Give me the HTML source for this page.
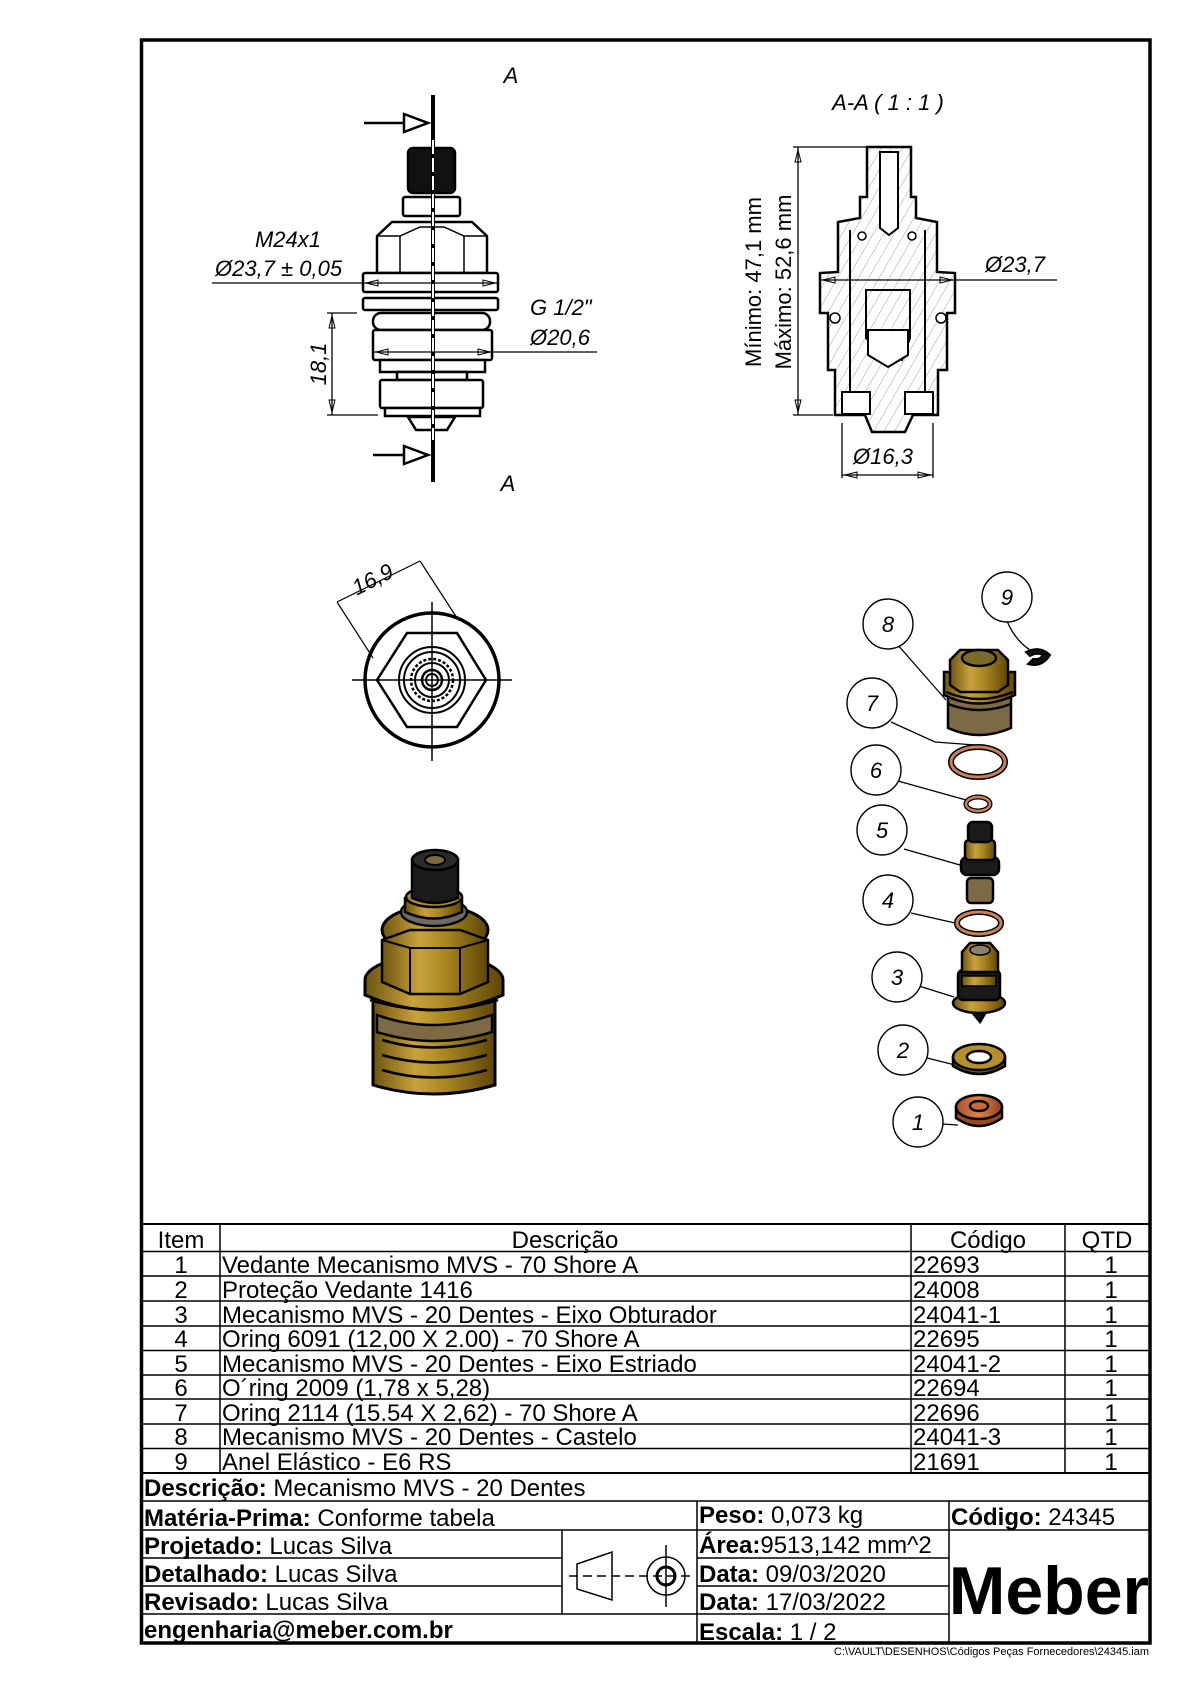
<!DOCTYPE html>
<html><head><meta charset="utf-8"><style>
html,body{margin:0;padding:0;background:#fff}
svg{display:block}
text{font-family:"Liberation Sans",Arial,sans-serif}
.it{font-style:italic}
</style></head><body>
<svg width="1190" height="1684" viewBox="0 0 1190 1684" xmlns="http://www.w3.org/2000/svg">
<defs>
<pattern id="h" width="9" height="9" patternUnits="userSpaceOnUse" patternTransform="rotate(30)">
<line x1="0" y1="0" x2="0" y2="9" stroke="#6aa06a" stroke-width="0.8"/></pattern>
<linearGradient id="br" x1="0" x2="1"><stop offset="0" stop-color="#6e5410"/><stop offset="0.35" stop-color="#c9a23e"/><stop offset="0.6" stop-color="#a98621"/><stop offset="1" stop-color="#5e4508"/></linearGradient>
<linearGradient id="cu" x1="0" x2="1"><stop offset="0" stop-color="#a0522d"/><stop offset="0.5" stop-color="#e0844a"/><stop offset="1" stop-color="#8a4020"/></linearGradient>
</defs>
<rect x="141.5" y="40" width="1008.5" height="1603" fill="none" stroke="#000" stroke-width="3.5"/>

<!-- FRONT VIEW -->
<g stroke="#000" fill="#fff" stroke-width="2.5">
<rect x="408" y="148" width="47" height="45" rx="5" fill="#111"/>
<rect x="403" y="197" width="57" height="19" rx="2"/>
<path d="M377 273 L377 236 L392 222 L472 222 L487 236 L487 273 Z"/>
<path d="M400 236 L400 273 M464 236 L464 273 M377 236 L400 236 L420 227 L444 227 L464 236 L487 236" fill="none" stroke-width="1.5"/>
<rect x="363" y="273" width="135" height="19" rx="2"/>
<rect x="363" y="298" width="135" height="12" rx="2"/>
<rect x="373" y="313" width="117" height="17" rx="8"/>
<rect x="373" y="330" width="119" height="30" rx="2"/>
<rect x="380" y="360" width="105" height="12"/>
<rect x="397" y="372" width="70" height="8"/>
<rect x="380" y="380" width="103" height="28" rx="2"/>
<rect x="385" y="408" width="95" height="8"/>
<path d="M408 417 L455 417 L447 430 L416 430 Z"/>
</g>
<line x1="433" y1="95" x2="433" y2="482" stroke="#000" stroke-width="4"/>
<line x1="433" y1="140" x2="433" y2="440" stroke="#fff" stroke-width="2" stroke-dasharray="14 4"/>
<g stroke="#000" stroke-width="2.5" fill="#fff">
<line x1="364" y1="123" x2="408" y2="123"/><path d="M404 114 L428 123 L404 132 Z"/>
<line x1="373" y1="455" x2="408" y2="455"/><path d="M404 446 L428 455 L404 464 Z"/>
</g>
<text x="511" y="83" font-size="22" class="it" text-anchor="middle">A</text>
<text x="508" y="491" font-size="22" class="it" text-anchor="middle">A</text>
<g stroke="#000" stroke-width="1.3" fill="none">
<line x1="212" y1="283" x2="498" y2="283"/>
<line x1="373" y1="352" x2="597" y2="352"/>
<line x1="332" y1="313" x2="332" y2="415"/>
<line x1="327" y1="313" x2="357" y2="313"/>
<line x1="327" y1="415" x2="378" y2="415"/>
</g>
<g fill="none" stroke="#000" stroke-width="1">
<path d="M366 283 L378 280 L378 286 Z M495 283 L483 280 L483 286 Z"/>
<path d="M376 352 L388 349 L388 355 Z M490 352 L478 349 L478 355 Z"/>
<path d="M332 316 L329 328 L335 328 Z M332 412 L329 400 L335 400 Z"/>
</g>
<text x="288" y="247" font-size="22" class="it" text-anchor="middle">M24x1</text>
<text x="215" y="276" font-size="22" class="it">Ø23,7 ± 0,05</text>
<text x="530" y="315" font-size="22" class="it">G 1/2"</text>
<text x="530" y="345" font-size="22" class="it">Ø20,6</text>
<text transform="translate(326,364) rotate(-90)" font-size="22" class="it" text-anchor="middle">18,1</text>

<!-- SECTION VIEW -->
<text x="888" y="110" font-size="22" class="it" text-anchor="middle">A-A ( 1 : 1 )</text>
<g stroke="#000" stroke-width="2.5">
<path d="M867 147 L911 147 L911 197 L916 197 L916 218 L937 222 L937 272 L955 273 L955 313 L947 313 L947 370 L938 370 L938 415 L913 415 L905 432 L872 432 L865 415 L835 415 L835 370 L828 370 L828 313 L820 313 L820 273 L838 272 L838 222 L860 218 L860 197 L867 197 Z" fill="url(#h)"/>
<path d="M880 152 L898 152 L898 228 L889 235 L880 228 Z" fill="#fff" stroke-width="2"/>
<path d="M866 290 L866 338 L875 348 L902 360 L910 338 L910 290 Z" fill="none" stroke-width="2"/>
<path d="M868 330 L908 330 L908 355 L888 367 L868 355 Z" fill="#fff" stroke-width="2"/>
<path d="M850 230 L850 410 M925 230 L925 410" fill="none" stroke-width="2"/>
<rect x="842" y="392" width="28" height="22" fill="#fff" stroke-width="2"/>
<rect x="905" y="392" width="28" height="22" fill="#fff" stroke-width="2"/>
<circle cx="862" cy="236" r="4" fill="#fff" stroke-width="1.5"/>
<circle cx="912" cy="236" r="4" fill="#fff" stroke-width="1.5"/>
<circle cx="835" cy="318" r="5" fill="#fff" stroke-width="1.5"/>
<circle cx="941" cy="318" r="5" fill="#fff" stroke-width="1.5"/>
</g>
<g stroke="#000" stroke-width="1.3" fill="none">
<line x1="798" y1="147" x2="798" y2="415"/>
<line x1="793" y1="147" x2="867" y2="147"/>
<line x1="793" y1="415" x2="833" y2="415"/>
<line x1="820" y1="280" x2="1057" y2="280"/>
<line x1="842" y1="423" x2="842" y2="478"/>
<line x1="933" y1="423" x2="933" y2="478"/>
<line x1="842" y1="475" x2="933" y2="475"/>
</g>
<g fill="none" stroke="#000" stroke-width="1">
<path d="M798 150 L795 162 L801 162 Z M798 412 L795 400 L801 400 Z"/>
<path d="M823 280 L835 277 L835 283 Z M952 280 L940 277 L940 283 Z"/>
<path d="M845 475 L857 472 L857 478 Z M930 475 L918 472 L918 478 Z"/>
</g>
<text transform="translate(761,282) rotate(-90)" font-size="22" text-anchor="middle">Mínimo: 47,1 mm</text>
<text transform="translate(791,282) rotate(-90)" font-size="22" text-anchor="middle">Máximo: 52,6 mm</text>
<text x="985" y="272" font-size="22" class="it">Ø23,7</text>
<text x="853" y="464" font-size="22" class="it">Ø16,3</text>

<!-- TOP VIEW -->
<g stroke="#000" fill="none">
<circle cx="432" cy="680" r="67" stroke-width="3.5"/>
<path d="M377 680 L407 633 L457 633 L486 680 L457 727 L407 727 Z" stroke-width="2.5"/>
<circle cx="432" cy="680" r="33" stroke-width="2"/>
<circle cx="432" cy="680" r="28" stroke-width="2"/>
<circle cx="432" cy="680" r="21" stroke-width="2.5" stroke-dasharray="3 2"/>
<circle cx="432" cy="680" r="17" stroke-width="2"/>
<circle cx="432" cy="680" r="10" stroke-width="2.5"/>
<circle cx="432" cy="680" r="6" stroke-width="2"/>
<line x1="352" y1="680" x2="512" y2="680" stroke-width="1.5"/>
<line x1="432" y1="602" x2="432" y2="761" stroke-width="1.5"/>
<line x1="337" y1="602" x2="420" y2="561" stroke-width="1.2"/>
<line x1="337" y1="602" x2="373" y2="658" stroke-width="1.2"/>
<line x1="420" y1="561" x2="457" y2="618" stroke-width="1.2"/>
</g>
<text transform="translate(376,586) rotate(-27)" font-size="22" class="it" text-anchor="middle">16,9</text>

<!-- 3D ASSEMBLY -->
<g stroke="#000" stroke-width="3">
<path d="M373 1000 L373 1085 Q433 1103 495 1085 L495 1000 Z" fill="url(#br)"/>
<path d="M382 1040 Q433 1055 487 1040 M382 1055 Q433 1070 487 1055 M382 1070 Q433 1085 487 1070" fill="none" stroke-width="2.5"/>
<path d="M377 1015 Q433 1035 492 1015 L492 1032 Q433 1050 377 1032 Z" fill="#7d6a45" stroke-width="2.5"/>
<ellipse cx="434" cy="980" rx="69" ry="25" fill="url(#br)"/>
<path d="M365 980 L365 995 Q434 1025 503 995 L503 980" fill="url(#br)"/>
<path d="M370 1000 Q434 1020 498 1000" fill="none" stroke-width="2.5"/>
<ellipse cx="435" cy="930" rx="53" ry="24" fill="url(#br)"/>
<path d="M382 940 L410 930 L460 930 L488 940 L488 982 L460 994 L410 994 L382 982 Z" fill="url(#br)" stroke-width="2.5"/>
<path d="M382 940 L410 948 L460 948 L488 940 M410 948 L410 994 M460 948 L460 994" fill="none" stroke-width="2"/>
<ellipse cx="434" cy="912" rx="33" ry="14" fill="#6e6a66" stroke-width="2.5"/>
<path d="M405 897 L405 912 Q434 925 462 912 L462 897" fill="url(#br)" stroke-width="2.5"/>
<ellipse cx="434" cy="897" rx="28" ry="10" fill="#b58f2c" stroke-width="2.5"/>
<path d="M412 860 L412 898 Q435 908 458 898 L458 860 Z" fill="#1a1a1a" stroke-width="2.5"/>
<ellipse cx="435" cy="860" rx="23" ry="10" fill="#2a2a2a" stroke-width="2.5"/>
<ellipse cx="435" cy="860" rx="10" ry="5" fill="#7a6a40" stroke-width="2"/>
</g>

<!-- EXPLODED VIEW -->
<g stroke="#000" stroke-width="1.3" fill="none">
<path d="M1007 621 Q1015 640 1030 650"/>
<path d="M897 644 L946 700"/>
<path d="M891 722 L935 742 L975 745"/>
<path d="M898 781 L966 800"/>
<path d="M904 849 L960 865"/>
<path d="M911 913 L955 923"/>
<path d="M919 986 L954 997"/>
<path d="M927 1058 L955 1065"/>
<path d="M942 1124 L958 1125"/>
</g>
<g stroke="#000" stroke-width="1.4" fill="#fff">
<circle cx="1007" cy="597" r="25"/><circle cx="888" cy="624" r="25"/>
<circle cx="872" cy="703" r="25"/><circle cx="876" cy="770" r="25"/>
<circle cx="882" cy="830" r="25"/><circle cx="888" cy="900" r="25"/>
<circle cx="897" cy="977" r="25"/><circle cx="903" cy="1050" r="25"/>
<circle cx="918" cy="1122" r="25"/>
</g>
<g font-size="22" class="it" text-anchor="middle">
<text x="1007" y="605">9</text><text x="888" y="632">8</text><text x="872" y="711">7</text>
<text x="876" y="778">6</text><text x="882" y="838">5</text><text x="888" y="908">4</text>
<text x="897" y="985">3</text><text x="903" y="1058">2</text><text x="918" y="1130">1</text>
</g>
<path d="M1026 652 Q1040 645 1050 655 Q1042 668 1028 664 L1033 659 Q1040 660 1043 655 Q1036 652 1030 656 Z" fill="#111" stroke="#000" stroke-width="2"/>
<g stroke="#000" stroke-width="2.5">
<path d="M948 690 L948 728 Q979 742 1011 728 L1011 690 Z" fill="#7d6a45"/>
<path d="M944 672 L944 695 Q979 712 1015 695 L1015 672 Z" fill="url(#br)"/>
<path d="M946 692 Q979 706 1013 692 M948 704 Q979 716 1011 704" fill="none"/>
<path d="M950 660 L960 650 L998 650 L1008 660 L1008 685 L998 692 L960 692 L950 685 Z" fill="url(#br)"/>
<ellipse cx="979" cy="658" rx="17" ry="8" fill="#7d6a2a"/>
</g>
<ellipse cx="978" cy="762" rx="27" ry="15" fill="none" stroke="#000" stroke-width="6"/>
<ellipse cx="978" cy="762" rx="27" ry="15" fill="none" stroke="#c8805a" stroke-width="3"/>
<ellipse cx="978" cy="804" rx="12" ry="7" fill="none" stroke="#000" stroke-width="5"/>
<ellipse cx="978" cy="804" rx="12" ry="7" fill="none" stroke="#c8805a" stroke-width="2.5"/>
<ellipse cx="979" cy="923" rx="22" ry="11" fill="none" stroke="#000" stroke-width="6"/>
<ellipse cx="979" cy="923" rx="22" ry="11" fill="none" stroke="#c8805a" stroke-width="3"/>
<g stroke="#000" stroke-width="2.5">
<rect x="967" y="878" width="26" height="25" rx="4" fill="#7d6a45"/>
<rect x="961" y="857" width="38" height="18" rx="6" fill="#1a1a1a"/>
<rect x="965" y="840" width="30" height="20" rx="4" fill="url(#br)"/>
<rect x="968" y="822" width="24" height="20" rx="5" fill="#1a1a1a"/>
</g>
<g stroke="#000" stroke-width="2.5">
<path d="M972 1012 L986 1012 L980 1022 Z" fill="#111"/>
<ellipse cx="979" cy="1003" rx="26" ry="10" fill="url(#br)"/>
<rect x="958" y="970" width="42" height="30" rx="5" fill="#1a1a1a"/>
<rect x="962" y="976" width="34" height="10" fill="url(#br)" stroke-width="1.5"/>
<path d="M962 952 L970 943 L990 943 L998 952 L998 972 L962 972 Z" fill="url(#br)"/>
<ellipse cx="980" cy="950" rx="10" ry="5" fill="#8a8070" stroke-width="1.5"/>
</g>
<g stroke="#000" stroke-width="2.5">
<path d="M953 1057 L953 1066 Q979 1082 1005 1066 L1005 1057 Z" fill="#6e5410"/>
<ellipse cx="979" cy="1057" rx="26" ry="13" fill="#b58f2c"/>
<ellipse cx="979" cy="1057" rx="12" ry="6" fill="#fff"/>
</g>
<g stroke="#000" stroke-width="2.5">
<path d="M956 1107 L956 1118 Q979 1134 1002 1118 L1002 1107 Z" fill="#9a4a22"/>
<ellipse cx="979" cy="1107" rx="23" ry="12" fill="url(#cu)"/>
<ellipse cx="979" cy="1106" rx="9" ry="5" fill="#c86a3a"/>
</g>

<!-- TABLE -->
<g stroke="#000" stroke-width="1.5">
<line x1="141.5" y1="1224" x2="1150" y2="1224" stroke-width="2"/>
<line x1="141.5" y1="1251.5" x2="1150" y2="1251.5"/>
<line x1="141.5" y1="1276" x2="1150" y2="1276"/>
<line x1="141.5" y1="1301" x2="1150" y2="1301"/>
<line x1="141.5" y1="1326" x2="1150" y2="1326"/>
<line x1="141.5" y1="1350.5" x2="1150" y2="1350.5"/>
<line x1="141.5" y1="1375" x2="1150" y2="1375"/>
<line x1="141.5" y1="1399" x2="1150" y2="1399"/>
<line x1="141.5" y1="1424" x2="1150" y2="1424"/>
<line x1="141.5" y1="1448.5" x2="1150" y2="1448.5"/>
<line x1="141.5" y1="1473" x2="1150" y2="1473" stroke-width="2"/>
<line x1="220" y1="1224" x2="220" y2="1473"/>
<line x1="911" y1="1224" x2="911" y2="1473"/>
<line x1="1065" y1="1224" x2="1065" y2="1473"/>
<line x1="141.5" y1="1501" x2="1150" y2="1501"/>
<line x1="141.5" y1="1530" x2="1150" y2="1530"/>
<line x1="141.5" y1="1558" x2="562" y2="1558"/>
<line x1="697" y1="1558" x2="949" y2="1558"/>
<line x1="141.5" y1="1586" x2="562" y2="1586"/>
<line x1="697" y1="1586" x2="949" y2="1586"/>
<line x1="141.5" y1="1614" x2="949" y2="1614"/>
<line x1="697" y1="1501" x2="697" y2="1643"/>
<line x1="949" y1="1501" x2="949" y2="1643"/>
<line x1="562" y1="1530" x2="562" y2="1614"/>
</g>
<g stroke="#000" stroke-width="1.5" fill="none">
<path d="M577 1564 L612 1552 L612 1600 L577 1589 Z"/>
<line x1="569" y1="1576" x2="690" y2="1576" stroke-dasharray="9 5"/>
<line x1="666" y1="1545" x2="666" y2="1607"/>
<circle cx="666" cy="1576" r="19"/>
<circle cx="666" cy="1576" r="9" stroke-width="3"/>
</g>
<g font-size="24">
<text x="181" y="1248" text-anchor="middle">Item</text>
<text x="565" y="1248" text-anchor="middle">Descrição</text>
<text x="988" y="1248" text-anchor="middle">Código</text>
<text x="1107" y="1248" text-anchor="middle">QTD</text>
<text x="181" y="1273" text-anchor="middle">1</text><text x="222" y="1273">Vedante Mecanismo MVS - 70 Shore A</text><text x="913" y="1273">22693</text><text x="1111" y="1273" text-anchor="middle">1</text>
<text x="181" y="1298" text-anchor="middle">2</text><text x="222" y="1298">Proteção Vedante 1416</text><text x="913" y="1298">24008</text><text x="1111" y="1298" text-anchor="middle">1</text>
<text x="181" y="1323" text-anchor="middle">3</text><text x="222" y="1323">Mecanismo MVS - 20 Dentes - Eixo Obturador</text><text x="913" y="1323">24041-1</text><text x="1111" y="1323" text-anchor="middle">1</text>
<text x="181" y="1347" text-anchor="middle">4</text><text x="222" y="1347">Oring 6091 (12,00 X 2.00) - 70 Shore A</text><text x="913" y="1347">22695</text><text x="1111" y="1347" text-anchor="middle">1</text>
<text x="181" y="1372" text-anchor="middle">5</text><text x="222" y="1372">Mecanismo MVS - 20 Dentes - Eixo Estriado</text><text x="913" y="1372">24041-2</text><text x="1111" y="1372" text-anchor="middle">1</text>
<text x="181" y="1396" text-anchor="middle">6</text><text x="222" y="1396">O´ring 2009 (1,78 x 5,28)</text><text x="913" y="1396">22694</text><text x="1111" y="1396" text-anchor="middle">1</text>
<text x="181" y="1421" text-anchor="middle">7</text><text x="222" y="1421">Oring 2114 (15.54 X 2,62) - 70 Shore A</text><text x="913" y="1421">22696</text><text x="1111" y="1421" text-anchor="middle">1</text>
<text x="181" y="1445" text-anchor="middle">8</text><text x="222" y="1445">Mecanismo MVS - 20 Dentes - Castelo</text><text x="913" y="1445">24041-3</text><text x="1111" y="1445" text-anchor="middle">1</text>
<text x="181" y="1470" text-anchor="middle">9</text><text x="222" y="1470">Anel Elástico - E6 RS</text><text x="913" y="1470">21691</text><text x="1111" y="1470" text-anchor="middle">1</text>
<text x="144" y="1496"><tspan font-weight="bold">Descrição:</tspan> Mecanismo MVS - 20 Dentes</text>
<text x="144" y="1526"><tspan font-weight="bold">Matéria-Prima:</tspan> Conforme tabela</text>
<text x="144" y="1554"><tspan font-weight="bold">Projetado:</tspan> Lucas Silva</text>
<text x="144" y="1582"><tspan font-weight="bold">Detalhado:</tspan> Lucas Silva</text>
<text x="144" y="1610"><tspan font-weight="bold">Revisado:</tspan> Lucas Silva</text>
<text x="144" y="1638" font-weight="bold">engenharia@meber.com.br</text>
<text x="699" y="1523"><tspan font-weight="bold">Peso:</tspan> 0,073 kg</text>
<text x="699" y="1553"><tspan font-weight="bold">Área:</tspan>9513,142 mm^2</text>
<text x="699" y="1582"><tspan font-weight="bold">Data:</tspan> 09/03/2020</text>
<text x="699" y="1610"><tspan font-weight="bold">Data:</tspan> 17/03/2022</text>
<text x="699" y="1640"><tspan font-weight="bold">Escala:</tspan> 1 / 2</text>
<text x="951" y="1525"><tspan font-weight="bold">Código:</tspan> 24345</text>
</g>
<text x="1149" y="1614" font-size="68" font-weight="bold" text-anchor="end">Meber</text>
<text x="1149" y="1655" font-size="11" text-anchor="end">C:\VAULT\DESENHOS\Códigos Peças Fornecedores\24345.iam</text>
</svg>
</body></html>
